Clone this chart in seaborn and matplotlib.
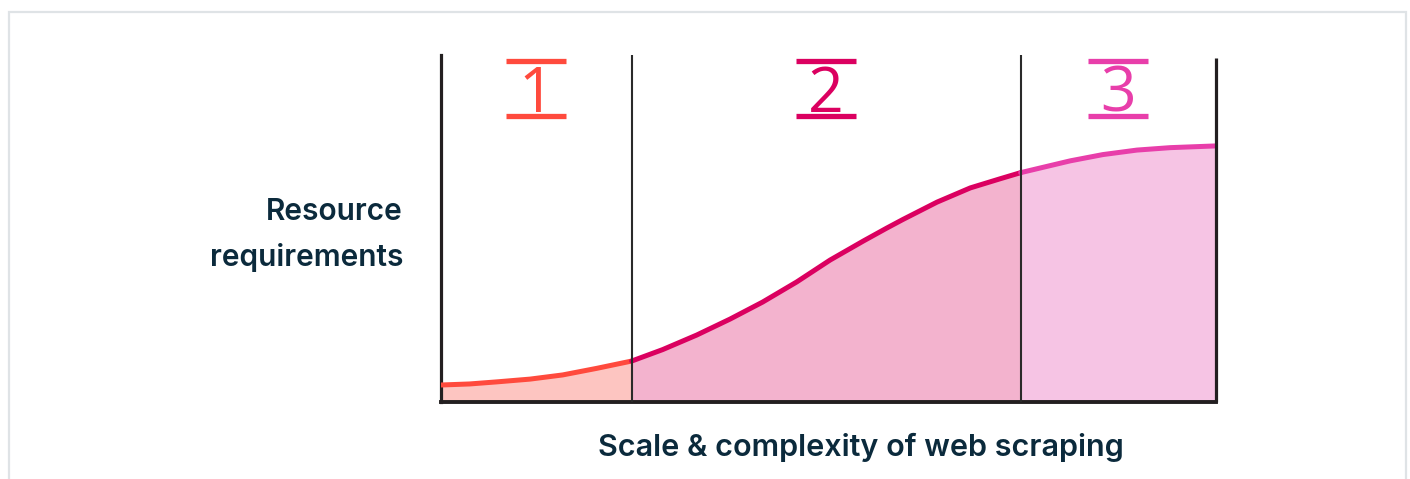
import matplotlib
matplotlib.use("Agg")
import matplotlib.pyplot as plt
import matplotlib.patches as mpatches
import seaborn as sns
import pandas as pd

sns.set_theme(style="white")
plt.rcParams['font.family'] = ['Inter', 'DejaVu Sans']

# ---- data ----
stage_labels = ["1", "2", "3"]
stage_bounds = [0, 24.6, 74.8, 100]
complexity = [0, 3.7, 7.2, 11.5, 15.7, 20.1, 24.6, 28.6, 33.0, 37.3, 41.5, 45.9, 50.2,
              54.5, 57.5, 59.6, 64.0, 68.3, 72.1, 74.8, 81.2, 85.4, 89.8, 94.1, 100]
resources = [4.9, 5.2, 5.8, 6.6, 7.8, 9.7, 11.8, 15.1, 19.3, 23.9, 28.8, 34.6, 40.9,
             46.4, 50.1, 52.6, 57.6, 61.7, 64.3, 66.1, 69.5, 71.3, 72.6, 73.3, 73.8]
line_colors = ["#FF4A3D", "#DB0060", "#E83EAA"]
fill_colors = ["#FDC5C1", "#F3B3CE", "#F6C4E4"]
y_label = "Resource\nrequirements"
x_label = "Scale & complexity of web scraping"

# ---- long table, one segment per stage ----
rows = []
for i, lab in enumerate(stage_labels):
    lo, hi = stage_bounds[i], stage_bounds[i + 1]
    for x, y in zip(complexity, resources):
        if lo - 1e-9 <= x <= hi + 1e-9:
            rows.append({"x": x, "y": y, "stage": lab})
df = pd.DataFrame(rows)

W, H = 1410, 479
fig = plt.figure(figsize=(W / 100, H / 100), dpi=100)
ax = fig.add_axes([441 / W, 77 / H, 775 / W, 347 / H])

for i, lab in enumerate(stage_labels):
    seg = df[df.stage == lab]
    ax.fill_between(seg.x, 0, seg.y, color=fill_colors[i], lw=0, zorder=1)

sns.lineplot(data=df, x="x", y="y", hue="stage",
             palette=dict(zip(stage_labels, line_colors)),
             linewidth=3.6, legend=False, ax=ax, zorder=3, estimator=None, sort=True)
for ln in ax.lines:
    ln.set_solid_joinstyle("round")

ax.set_xlim(stage_bounds[0], stage_bounds[-1])
ax.set_ylim(0, 100)
ax.spines["top"].set_visible(False)
ax.spines["right"].set_visible(False)
ax.spines["left"].set_linewidth(2.3)
ax.spines["left"].set_color("#231F20")
ax.spines["bottom"].set_linewidth(2.8)
ax.spines["bottom"].set_color("#231F20")
ax.plot([stage_bounds[-1]] * 2, [0, 99.1], color="#231F20", lw=2.3, zorder=4,
        clip_on=False, solid_capstyle="butt")
for b in stage_bounds[1:-1]:
    ax.axvline(b, color="#2A2A2A", lw=1.5, zorder=4)
ax.set_xticks([])
ax.set_yticks([])
ax.set_xlabel("")
ax.set_ylabel("")

# stage numbers with over/under bars
for i, lab in enumerate(stage_labels):
    cx = (stage_bounds[i] + stage_bounds[i + 1]) / 2
    ax.text(cx, 83.6, lab, ha="center", va="baseline", fontsize=45, color=line_colors[i],
            family=["Open Sans", "DejaVu Sans"], fontweight="normal", zorder=5)
    for yb in (98.4, 82.3):
        ax.plot([cx - 3.87, cx + 3.87], [yb, yb], color=line_colors[i], lw=3.8,
                solid_capstyle="butt", clip_on=False, zorder=5)

fig.text(403 / W, 1 - 235 / H, y_label, ha="right", va="center", fontsize=21.5,
         color="#0B2A3C", fontweight="semibold", linespacing=1.7)
fig.text(861 / W, 1 - 447 / H, x_label, ha="center", va="center", fontsize=22,
         color="#0B2A3C", fontweight="semibold")

# outer light border
fig.patches.append(mpatches.Rectangle((9 / W, -0.1), (1406 - 9) / W, 0.1 + (1 - 12 / H),
                                      transform=fig.transFigure, fill=False,
                                      edgecolor="#DFE3E6", lw=1.6, zorder=0))

fig.savefig("out.png", dpi=100, facecolor="white")
